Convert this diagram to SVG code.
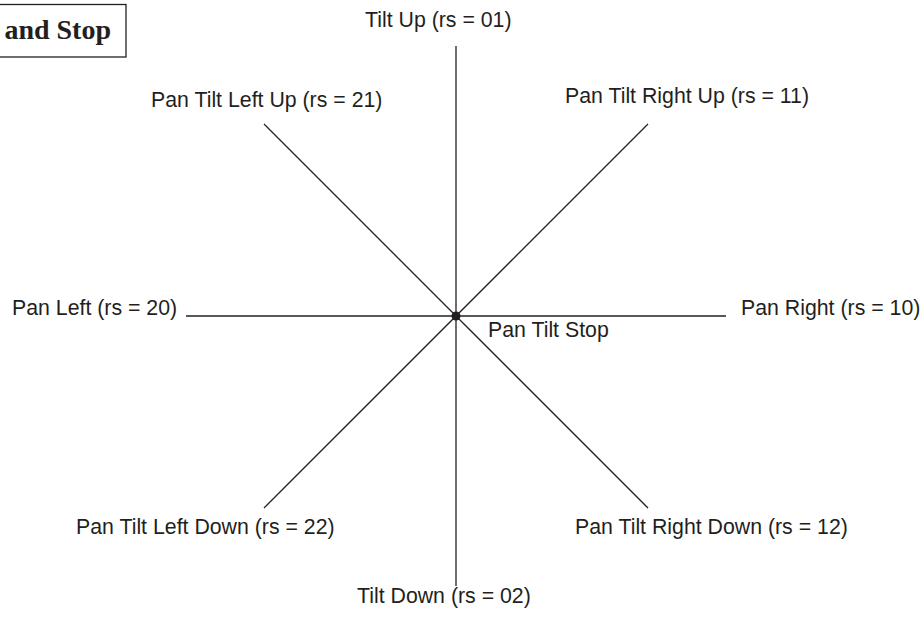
<svg xmlns="http://www.w3.org/2000/svg" width="920" height="619" viewBox="0 0 920 619">
<style>
.lbl{font-family:"Liberation Sans",Arial,sans-serif;font-size:21.3px;fill:#231f20}
.ttl{font-family:"Liberation Serif","Times New Roman",serif;font-size:28px;font-weight:bold;fill:#231f20}
.ln{stroke:#231f20;stroke-width:1.3;fill:none}
</style>
<rect width="920" height="619" fill="#ffffff"/>
<g id="title">
<rect x="-10" y="4.5" width="136" height="52.5" fill="#ffffff" stroke="#231f20" stroke-width="1.3"/>
<text class="ttl" x="111" y="38.5" text-anchor="end">and Stop</text>
</g>
<g id="connectors">
<line class="ln" x1="456" y1="46" x2="456" y2="586"/>
<line class="ln" x1="186" y1="316" x2="726" y2="316"/>
<line class="ln" x1="264" y1="124" x2="648" y2="508"/>
<line class="ln" x1="648" y1="124" x2="264" y2="508"/>
</g>
<g id="center"><circle cx="456" cy="316" r="4.5" fill="#231f20"/><text class="lbl" x="488" y="337">Pan Tilt Stop</text></g>
<g id="tilt-up"><text class="lbl" x="365" y="27">Tilt Up (rs = 01)</text></g>
<g id="tilt-down"><text class="lbl" x="357" y="603">Tilt Down (rs = 02)</text></g>
<g id="pan-left"><text class="lbl" x="12" y="315">Pan Left (rs = 20)</text></g>
<g id="pan-right"><text class="lbl" x="741" y="315">Pan Right (rs = 10)</text></g>
<g id="left-up"><text class="lbl" x="151" y="107">Pan Tilt Left Up (rs = 21)</text></g>
<g id="right-up"><text class="lbl" x="565" y="103">Pan Tilt Right Up (rs = 11)</text></g>
<g id="left-down"><text class="lbl" x="76" y="534">Pan Tilt Left Down (rs = 22)</text></g>
<g id="right-down"><text class="lbl" x="575" y="534">Pan Tilt Right Down (rs = 12)</text></g>
</svg>
